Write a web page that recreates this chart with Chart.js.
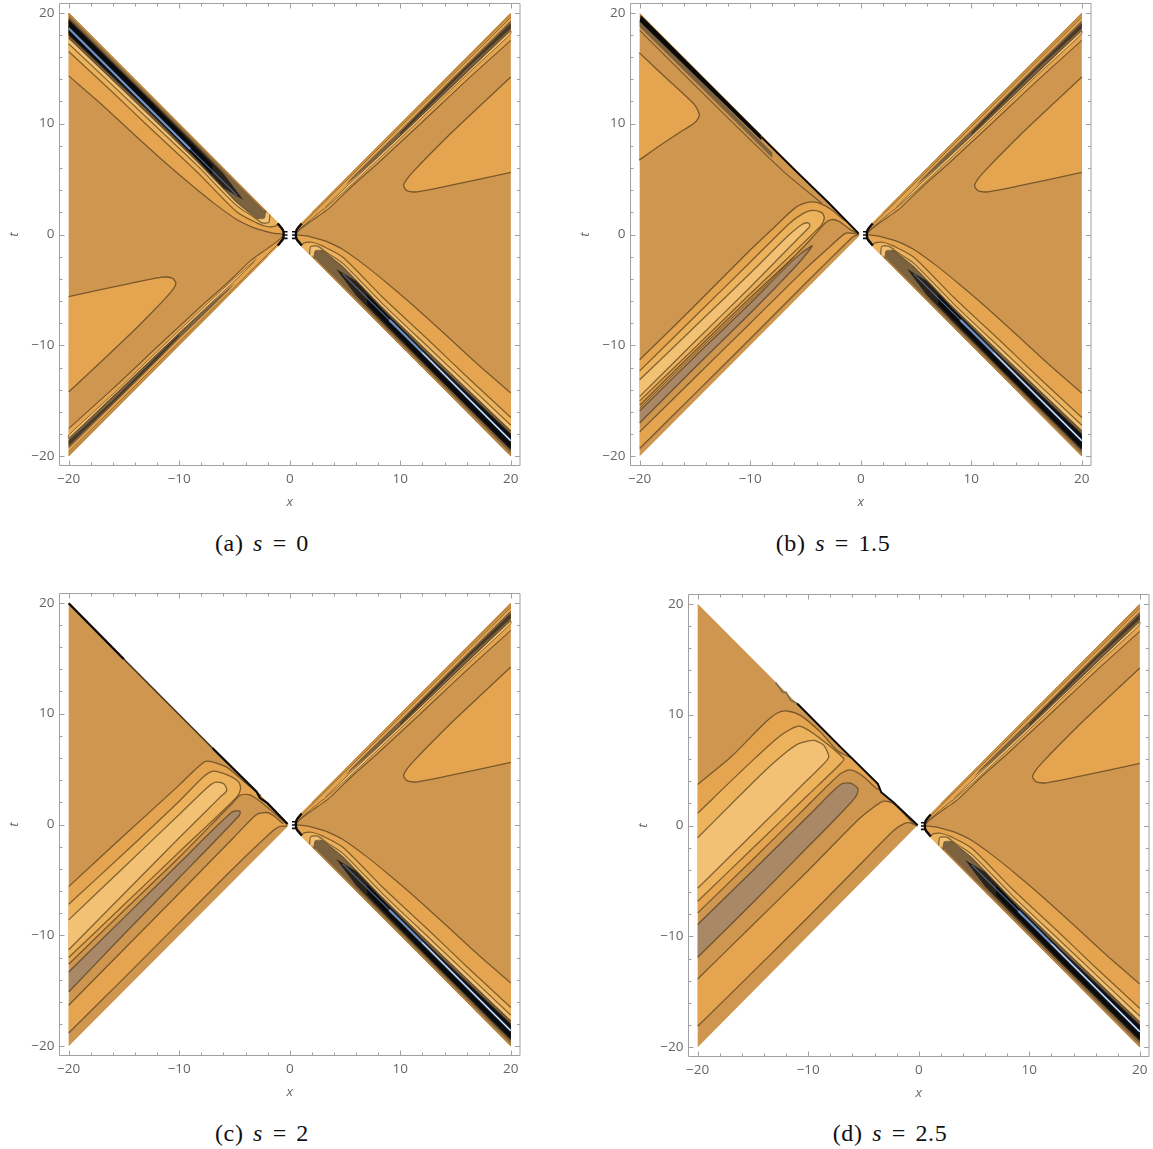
<!DOCTYPE html>
<html><head><meta charset="utf-8">
<script src="https://cdn.jsdelivr.net/npm/chart.js@4"></script>
<style>
html,body{margin:0;padding:0;background:#fff;width:1153px;height:1149px;overflow:hidden}
canvas{position:absolute}
.cap{position:absolute;font-family:"Liberation Serif",serif;font-size:24px;word-spacing:3px;letter-spacing:0.6px;color:#111;white-space:pre;transform:translateX(-50%);line-height:26px}
</style></head><body>
<div id="root"></div>
<script>
/* tick values */
const majorTicks=[-20,-10,0,10,20];
const minorTicks=[-18,-16,-14,-12,-8,-6,-4,-2,2,4,6,8,12,14,16,18];
/* right wedge, all panels */
const rightWedge=[[0.6,0.6],[20,20],[20,-20],[0.6,-0.6]];
const upperContour=[[0.6,0.1],[1.05,0.55],[2,1.25],[3,1.95],[3.6,2.4],[5,3.75],[5.9,4.6],[8,6.45],[10,8.3],[12,10.15],[16,13.9],[20,17.5]];
const upperCorner=[[20,20],[0.7,0.7]];
const upperStripe=[[3,2.2],[5,3.95],[8,6.75],[12,10.55],[16,14.4],[20,18.1],[20,18.35],[16,14.65],[12,10.8],[8,7],[5,4.2],[3.2,2.45]];
const upperMid=[[5,4.4],[7,6.1],[10,8.85],[14,12.65],[20,18.4],[20,19.3],[14,13.4],[10,9.4],[7,6.5],[5.5,5]];
const upperDark=[[10,9],[12,10.95],[16,14.95],[20,18.6],[20,19.05],[16,15.2],[12,11.25],[10,9.2]];
const upperEdge=[[2,2],[20,20],[20,19.75],[2,1.9]];
const upperEdgeLine=[[1.2,1],[5,4.75],[10,9.7],[20,19.6]];
const upperFan=[[0.65,0.25],[1.2,0.75],[2.2,1.6],[3,2.25]];
const lobeRight=[[20,14.2],[17,11.4],[14.4,8.95],[12.5,7.05],[11.3,5.8],[10.6,5],[10.3,4.4],[10.6,3.95],[11.5,3.85],[14.4,4.4],[20,5.6]];
const lowerL1=[[0.6,-0.03],[1.5,-0.12],[2.4,-0.35],[3.3,-0.62],[4.8,-1.35],[6.9,-2.85],[9,-4.55],[11.4,-6.6],[14.44,-9.35],[17,-11.7],[20,-14.3]];
const lowerL2=[[1,-1],[1.3,-0.75],[2,-0.7],[3,-1.05],[4.8,-2.05],[8.4,-5.66],[12.9,-9.85],[16,-12.8],[20,-16.5]];
const lowerL3=[[1.8,-1.8],[1.9,-1.1],[2.5,-1.05],[3.3,-1.6],[4.8,-2.6],[8.4,-6.25],[12.9,-10.5],[20,-17.2]];
const lowerMid=[[2.2,-2.2],[2.3,-1.5],[2.9,-1.45],[3.8,-2.1],[4.8,-2.9],[8.4,-6.6],[12.9,-10.95],[20,-17.7]];
const lowerBlack=[[4.2,-3.1],[6,-4.2],[8.4,-6.75],[12.9,-11.2],[20,-17.95],[20,-19.45],[12.9,-12.45],[8.4,-7.95],[6,-5.5]];
const lowerCore=[[7,-5.4],[12.9,-11.4],[20,-18.1],[20,-19.3],[12.9,-12.3],[7,-6.3]];
const lowerBlueThin=[[4.8,-3.55],[6,-4.75],[9,-7.7]];
const lowerBlue=[[9,-7.7],[10,-8.68],[14,-12.65],[20,-18.6]];
const lowerWhite=[[12,-10.65],[14,-12.65],[20,-18.6]];
const lowerEdge=[[2,-2],[20,-20],[20,-19.75],[2,-1.85]];
const lowerCorner=[[20,-20],[0.7,-0.7]];
const fringeRight=[[1.1,1],[0.85,0.7],[0.62,0.4],[0.55,0],[0.62,-0.4],[0.85,-0.7],[1.1,-1]];
const toothR1=[[0.2,0.25],[0.6,0.25]];
const toothR2=[[0.2,-0.05],[0.55,-0.05]];
const toothR3=[[0.2,-0.35],[0.6,-0.35]];
/* panel a, left wedge */
const aWedge=[[-0.6,-0.6],[-20,-20],[-20,20],[-0.6,0.6]];
const aLowerContour=[[-0.6,-0.1],[-1.05,-0.55],[-2,-1.25],[-3,-1.95],[-3.6,-2.4],[-5,-3.75],[-5.9,-4.6],[-8,-6.45],[-10,-8.3],[-12,-10.15],[-16,-13.9],[-20,-17.5]];
const aLowerCorner=[[-20,-20],[-0.7,-0.7]];
const aLowerStripe=[[-3,-2.2],[-5,-3.95],[-8,-6.75],[-12,-10.55],[-16,-14.4],[-20,-18.1],[-20,-18.35],[-16,-14.65],[-12,-10.8],[-8,-7],[-5,-4.2],[-3.2,-2.45]];
const aLowerMid=[[-5,-4.4],[-7,-6.1],[-10,-8.85],[-14,-12.65],[-20,-18.4],[-20,-19.3],[-14,-13.4],[-10,-9.4],[-7,-6.5],[-5.5,-5]];
const aLowerDark=[[-10,-9],[-12,-10.95],[-16,-14.95],[-20,-18.6],[-20,-19.05],[-16,-15.2],[-12,-11.25],[-10,-9.2]];
const aLowerEdge=[[-2,-2],[-20,-20],[-20,-19.75],[-2,-1.9]];
const aLowerEdgeLine=[[-1.2,-1],[-5,-4.75],[-10,-9.7],[-20,-19.6]];
const aLobe=[[-20,-14.2],[-17,-11.4],[-14.4,-8.95],[-12.5,-7.05],[-11.3,-5.8],[-10.6,-5],[-10.3,-4.4],[-10.6,-3.95],[-11.5,-3.85],[-14.4,-4.4],[-20,-5.6]];
const aUpperL1=[[-0.6,0.03],[-1.5,0.12],[-2.4,0.35],[-3.3,0.62],[-4.8,1.35],[-6.9,2.85],[-9,4.55],[-11.4,6.6],[-14.44,9.35],[-17,11.7],[-20,14.3]];
const aUpperL2=[[-1,1],[-1.3,0.75],[-2,0.7],[-3,1.05],[-4.8,2.05],[-8.4,5.66],[-12.9,9.85],[-16,12.8],[-20,16.5]];
const aUpperL3=[[-1.8,1.8],[-1.9,1.1],[-2.5,1.05],[-3.3,1.6],[-4.8,2.6],[-8.4,6.25],[-12.9,10.5],[-20,17.2]];
const aUpperMid=[[-2.2,2.2],[-2.3,1.5],[-2.9,1.45],[-3.8,2.1],[-4.8,2.9],[-8.4,6.6],[-12.9,10.95],[-20,17.7]];
const aUpperBlack=[[-4.2,3.1],[-6,4.2],[-8.4,6.75],[-12.9,11.2],[-20,17.95],[-20,19.45],[-12.9,12.45],[-8.4,7.95],[-6,5.5]];
const aUpperCore=[[-7,5.4],[-12.9,11.4],[-20,18.1],[-20,19.3],[-12.9,12.3],[-7,6.3]];
const aUpperBlueThin=[[-4.8,3.55],[-6,4.75],[-9,7.7]];
const aUpperBlue=[[-9,7.7],[-10,8.68],[-14,12.65],[-20,18.6]];
const aUpperEdge=[[-2,2],[-20,20],[-20,19.75],[-2,1.85]];
const aUpperCorner=[[-20,20],[-0.7,0.7]];
const fringeLeft=[[-1.1,1],[-0.85,0.7],[-0.62,0.4],[-0.55,0],[-0.62,-0.4],[-0.85,-0.7],[-1.1,-1]];
const toothL1=[[-0.2,0.25],[-0.6,0.25]];
const toothL2=[[-0.2,-0.05],[-0.55,-0.05]];
const toothL3=[[-0.2,-0.35],[-0.6,-0.35]];
/* panel b, left wedge */
const bWedge=[[-0.14,0.14],[-20,20],[-20,-20],[-0.14,-0.14]];
const bLobe=[[-20.05,16.4],[-18.2,14.65],[-16.4,13],[-15,11.65],[-14.6,10.75],[-15,10.1],[-16.4,9.2],[-18.2,8],[-20.05,6.7]];
const bBlack=[[-19.9,19.8],[-9,8.95],[-9,8.5],[-20,19.2]];
const bDarkBand=[[-20,19.3],[-8,7.4],[-8,6.9],[-20,18.7]];
const bBlackLine=[[-9,8.8],[-6,5.85],[-3,2.95],[-0.2,0.1]];
const bThinLine=[[-20,18.4],[-12,10.5],[-7,5.7],[-3.5,2.8]];
const bC1Top=[[-20,-11.3],[-15,-6.4],[-10,-1.4],[-7.66,0.81],[-5.85,2.47],[-4.65,2.92],[-3.75,2.83],[-2.54,2.17],[-1.64,1.41],[-1.1,1.05]];
const bC1Low=[[-0.14,0.02],[-1.04,0.51],[-2,1.2],[-2.6,1.35],[-3.14,1.11],[-4.5,-0.4],[-6,-1.95],[-10,-5.7],[-15,-10.5],[-20,-15.4]];
const bC2=[[-20,-12.3],[-15,-7.4],[-10,-2.5],[-6.5,0.95],[-5.2,1.9],[-4.35,2.17],[-3.5,1.95],[-3.3,1.5],[-3.6,0.8],[-10,-5.35],[-15,-10.2],[-20,-15]];
const bC3=[[-20,-13.1],[-15,-8.3],[-10,-3.5],[-6.5,-0.05],[-5.25,0.95],[-4.75,1.05],[-4.6,0.75],[-5.85,-0.54],[-10,-4.75],[-15,-9.65],[-20,-14.6]];
const bGrey=[[-20,-15.9],[-15,-11],[-10,-6.2],[-6,-2.2],[-4.4,-1],[-4.6,-1.35],[-6,-3],[-10,-7.1],[-15,-12],[-20,-17]];
const bC5=[[-20,-17.8],[-15,-12.9],[-10,-8],[-5,-3.1],[-2.84,-1.14],[-1.34,0.12],[-0.44,0.06],[-0.14,0]];
const bC6=[[-20,-19.3],[-15,-14.35],[-10,-9.4],[-5,-4.4],[-1.5,-0.95],[-0.7,-0.2],[-0.3,-0.05]];
const bExtra=[[-20,-15.65],[-15,-10.75],[-10,-5.95],[-6,-2]];
/* panel c, left wedge */
const cC1Top=[[-20,-5.6],[-15,-1],[-10,3.55],[-8.5,5],[-7.52,5.72],[-5.72,5.17],[-3.91,3.67],[-2.6,2.6]];
const cC1Low=[[-0.3,0.06],[-2.4,1.87],[-3.6,2.68],[-4.5,2.62],[-5.2,1.9],[-6,1.1],[-10,-2.95],[-15,-7.75],[-20,-12.6]];
const cC2=[[-20,-7.2],[-15,-2.6],[-10,2.1],[-7.8,4.3],[-6.92,4.81],[-5.5,4.4],[-4.6,3.8],[-4.45,3.2],[-4.8,2.47],[-10,-2.48],[-15,-7.24],[-20,-12]];
const cC3=[[-20,-8.6],[-15,-3.85],[-10,0.9],[-7.5,3.3],[-6.7,3.82],[-5.95,3.65],[-5.7,3.07],[-6.3,2.47],[-10,-1.2],[-15,-6.25],[-20,-11.3]];
const cGrey=[[-20,-13.3],[-15,-8.4],[-10,-3.5],[-5.26,1.11],[-4.5,1.2],[-4.57,0.81],[-10,-4.8],[-15,-9.9],[-20,-15.1]];
const cC5=[[-20,-16.3],[-15,-11.25],[-10,-6.2],[-5,-1.1],[-3,0.9],[-2.1,1.08],[-1.5,0.81],[-0.6,0.06]];
const cC6=[[-20,-18.8],[-15,-13.85],[-10,-8.85],[-5,-3.85],[-1.5,-0.55],[-0.95,-0.18],[-0.6,-0.15],[-0.25,-0.1]];
const cBlackTop=[[-20,19.95],[-15,14.9]];
const cThinBand=[[-15,14.9],[-10,9.9],[-7,6.9]];
const cBlackLow=[[-7,6.9],[-3,2.95],[-2.7,2.4],[-2,1.9],[-0.2,0.05]];
/* panel d, left wedge */
const dWedge=[[-20,20],[-3.5,3.5],[-3.4,3],[-2.3,2.1],[-0.1,0.02],[-20,-20]];
const dC1Top=[[-20,3.7],[-17,6.17],[-14,9.18],[-12.8,10.14],[-11.9,10.32],[-10.7,9.93],[-8.89,8.42],[-7.39,6.77],[-6.05,6.05]];
const dC1Low=[[-3.5,3.3],[-3.78,3.31],[-5.13,4.51],[-6.18,5.02],[-7.09,4.66],[-10,1.85],[-15,-3.05],[-20,-7.88]];
const dC2=[[-20,1.11],[-15.5,5.42],[-12.5,8.12],[-10.84,8.96],[-9.5,8.27],[-6.78,6.02],[-7.08,5.57],[-10,2.77],[-15,-2.03],[-20,-6.83]];
const dC3=[[-20,-1.11],[-17,1.9],[-14,4.85],[-12,6.6],[-10.8,7.4],[-9.5,7.67],[-8.59,7.22],[-8.14,6.17],[-8.59,5.57],[-11,3.2],[-15,-0.75],[-20,-5.66]];
const dGrey=[[-20,-8.93],[-15,-4.05],[-10,0.85],[-7.09,3.7],[-6.18,3.82],[-5.49,3.31],[-5.73,2.56],[-7.39,0.75],[-10,-1.9],[-15,-6.95],[-20,-11.88]];
const dC5=[[-20,-13.84],[-15,-8.95],[-10,-4.05],[-5.5,0.5],[-4.08,1.65],[-3.17,2.2],[-2.27,1.96],[-0.47,0.15]];
const dC6=[[-20,-18.11],[-15,-13.2],[-10,-8.25],[-5,-3.2],[-2.27,-0.45],[-1.37,0.15],[-0.77,0.24],[-0.1,-0.06]];
const dBlack=[[-11,11],[-7,7],[-3.7,3.75],[-3.4,3],[-2.3,2.1],[-0.1,0.02]];
const dHatch=[[-12.95,12.9],[-12.3,12],[-12,12],[-11.6,11.3],[-11,11]];
const captions=["(a) ","(b) ","(c) ","(d) "];
const captionValues=["0","1.5","2","2.5"];

const cBase='#CF9650',cOrange='#E5A44F',cLight='#EDB25C',cLightest='#F3C174',cGreyFill='#A88866',cMid='#7d6240',cDark='#4a3a26',cDeep='#2b2218',cInk='#0b0b0b',cBlue='#6E93C9',cBlueDim='#4d6a96',cWhiteLine='#f2f4f7',cEdge='#B9863F',cLine='rgba(62,46,22,0.62)',cFrame='#a0a0a0',cText='#666666';
const xy=a=>a.map(p=>({x:p[0],y:p[1]}));
const area=(a,c)=>({data:xy(a),showLine:true,fill:'shape',backgroundColor:c,borderWidth:0,pointRadius:0,tension:0});
const stroke=(a,c,w,t)=>({data:xy(a),showLine:true,fill:false,borderColor:c,borderWidth:w,pointRadius:0,tension:t===undefined?0.25:t});
const rightSide=()=>[
 area(rightWedge,cBase),
 area(upperContour.concat(upperCorner),cOrange),
 area(upperStripe,cLightest),area(upperMid,cMid),area(upperDark,cDark),area(upperEdge,cEdge),
 area(lobeRight,cOrange),
 area(lowerL1.concat(lowerCorner),cOrange),
 area(lowerL2.concat(lowerCorner),cLight),
 area(lowerL3.concat(lowerCorner),cLightest),
 area(lowerMid.concat(lowerCorner),cMid),
 area(lowerBlack,cDeep),area(lowerCore,cInk),area(lowerEdge,cEdge),
 stroke(upperContour,cLine,1.2),stroke(upperStripe,cLine,0.9),stroke(upperEdgeLine,cLine,0.9),stroke(upperFan,cLine,0.9),
 stroke(lobeRight,cLine,1.3),
 stroke(lowerL1,cLine,1.2),stroke(lowerL2,cLine,1.2),stroke(lowerL3,cLine,1.2),stroke(lowerMid,cLine,1.1),
 stroke(lowerBlueThin,cBlueDim,1.2,0),stroke(lowerBlue,cBlue,2.2,0),stroke(lowerWhite,cWhiteLine,1,0),
 stroke(fringeRight,cInk,2.4),stroke(toothR1,cInk,1.6,0),stroke(toothR2,cInk,1.6,0),stroke(toothR3,cInk,1.6,0)
];
const leftA=()=>[
 area(aWedge,cBase),
 area(aLowerContour.concat(aLowerCorner),cOrange),
 area(aLowerStripe,cLightest),area(aLowerMid,cMid),area(aLowerDark,cDark),area(aLowerEdge,cEdge),
 area(aLobe,cOrange),
 area(aUpperL1.concat(aUpperCorner),cOrange),
 area(aUpperL2.concat(aUpperCorner),cLight),
 area(aUpperL3.concat(aUpperCorner),cLightest),
 area(aUpperMid.concat(aUpperCorner),cMid),
 area(aUpperBlack,cDeep),area(aUpperCore,cInk),area(aUpperEdge,cEdge),
 stroke(aLowerContour,cLine,1.2),stroke(aLowerStripe,cLine,0.9),stroke(aLowerEdgeLine,cLine,0.9),
 stroke(aLobe,cLine,1.3),
 stroke(aUpperL1,cLine,1.2),stroke(aUpperL2,cLine,1.2),stroke(aUpperL3,cLine,1.2),stroke(aUpperMid,cLine,1.1),
 stroke(aUpperBlueThin,cBlueDim,1.2,0),stroke(aUpperBlue,cBlue,2.2,0),
 stroke(fringeLeft,cInk,2.4),stroke(toothL1,cInk,1.6,0),stroke(toothL2,cInk,1.6,0),stroke(toothL3,cInk,1.6,0)
];
const lobes=(top,low,c2,c3,grey,c5,c6)=>[
 area(top.concat(low),cOrange),area(c2,cLight),area(c3,cLightest),area(grey,cGreyFill),
 area(c5.concat(c6.slice().reverse()),cOrange),
 stroke(top,cLine,1.3),stroke(low,cLine,1.3),stroke(c2,cLine,1.3),stroke(c3,cLine,1.3),stroke(grey,cLine,1.3),stroke(c5,cLine,1.3),stroke(c6,cLine,1.3)
];
const leftB=()=>[area(bWedge,cBase),area(bLobe,cOrange),
 ...lobes(bC1Top,bC1Low,bC2,bC3,bGrey,bC5,bC6),
 area(bDarkBand,cMid),area(bBlack,cInk),stroke(bLobe,cLine,1.3),stroke(bExtra,cLine,1),stroke(bThinLine,cLine,1.1),stroke(bBlackLine,cInk,2,0)];
const leftC=()=>[area(bWedge,cBase),
 ...lobes(cC1Top,cC1Low,cC2,cC3,cGrey,cC5,cC6),
 stroke(cBlackTop,cInk,2.4,0),stroke(cThinBand,cDark,1.6,0),stroke(cBlackLow,cInk,2.2,0)];
const leftD=()=>[area(dWedge,cBase),
 ...lobes(dC1Top,dC1Low,dC2,dC3,dGrey,dC5,dC6),
 stroke(dHatch,'#7d6a52',1.6,0),stroke(dBlack,cInk,2,0)];

const frameTicks={id:'frameTicks',afterDatasetsDraw(ch){
 const {ctx,chartArea:a,scales:{x,y}}=ch;
 ctx.save();ctx.strokeStyle=cFrame;ctx.lineWidth=1;ctx.beginPath();
 ctx.rect(a.left,a.top,a.right-a.left,a.bottom-a.top);
 const mark=(list,len)=>list.forEach(v=>{
  const px=Math.round(x.getPixelForValue(v))+0.5,py=Math.round(y.getPixelForValue(v))+0.5;
  ctx.moveTo(px,a.bottom);ctx.lineTo(px,a.bottom-len);
  ctx.moveTo(px,a.top);ctx.lineTo(px,a.top+len);
  ctx.moveTo(a.left,py);ctx.lineTo(a.left+len,py);
  ctx.moveTo(a.right,py);ctx.lineTo(a.right-len,py);
 });
 mark(majorTicks,5);mark(minorTicks,3);ctx.stroke();ctx.restore();
}};
const tickFont={family:'"Open Sans"',size:13.5};
const titleFont={family:'"Open Sans"',size:13.5,style:'italic'};
const tickLabel=v=>String(v).replace('-','\u2212');
const axis=(name)=>({type:'linear',min:-20.83,max:20.83,
 afterBuildTicks:s=>{s.ticks=majorTicks.map(v=>({value:v}));},
 grid:{display:false,drawTicks:false},border:{display:false},
 ticks:{color:cText,font:tickFont,padding:name==='x'?6:5,maxRotation:0,autoSkip:false,callback:tickLabel},
 title:{display:true,text:name,color:cText,font:titleFont,padding:name==='x'?{top:0,bottom:10}:{top:6,bottom:0}},
 afterFit:s=>{if(name==='x')s.height=54.5;else s.width=59.5;s.paddingTop=0;s.paddingBottom=0;s.paddingLeft=0;s.paddingRight=0;}
});
const panels=[
 {l:0,t:0,left:leftA,cx:262,cy:530},
 {l:571,t:0,left:leftB,cx:833,cy:530},
 {l:0,t:590,left:leftC,cx:262,cy:1120},
 {l:629,t:591,left:leftD,cx:890,cy:1120}
];
const root=document.getElementById('root');
panels.forEach((p,i)=>{
 const c=document.createElement('canvas');
 c.width=524;c.height=520;c.style.left=p.l+'px';c.style.top=p.t+'px';c.style.width='524px';c.style.height='520px';
 root.appendChild(c);
 const ds=[...p.left(),...rightSide()].reverse();
 new Chart(c,{type:'scatter',data:{datasets:ds},plugins:[frameTicks],options:{
  responsive:false,animation:false,devicePixelRatio:1,
  layout:{padding:{top:3.5,right:4,left:0,bottom:0}},
  plugins:{legend:{display:false},tooltip:{enabled:false}},
  scales:{x:axis('x'),y:axis('t')}
 }});
 const d=document.createElement('div');d.className='cap';
 d.style.left=p.cx+'px';d.style.top=p.cy+'px';
 d.innerHTML=captions[i]+'<i>s</i> = '+captionValues[i];
 root.appendChild(d);
});
</script>
</body></html>
